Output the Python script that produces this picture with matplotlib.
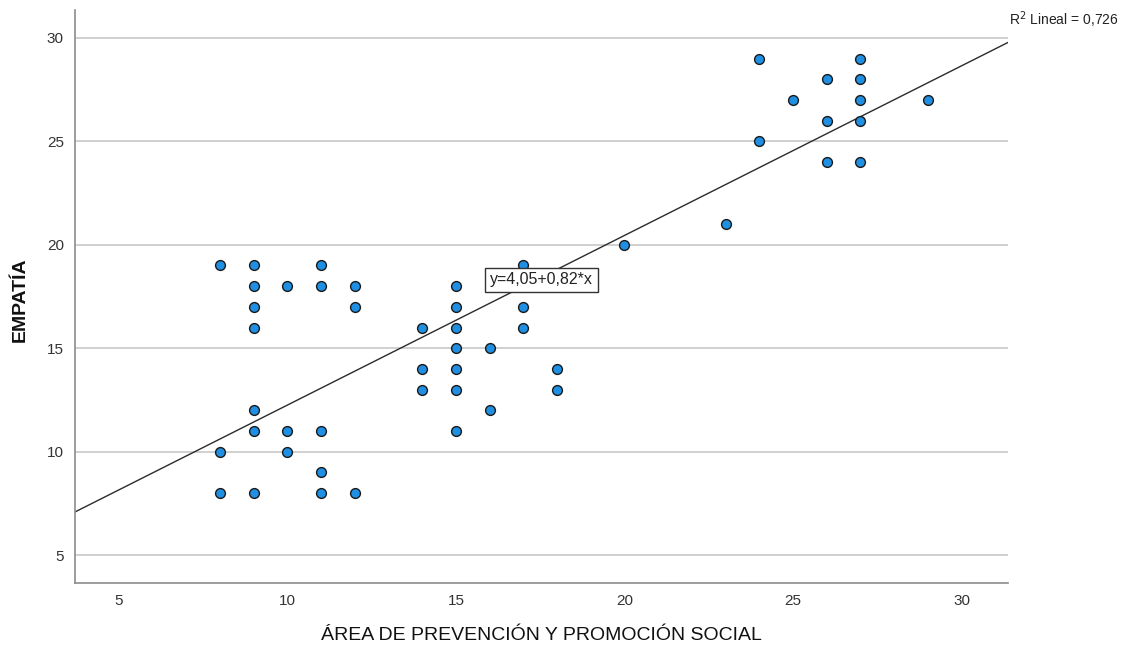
import matplotlib
matplotlib.use("Agg")
import matplotlib.pyplot as plt
import numpy as np

# Data (x = Área de prevención y promoción social, y = Empatía)
x_vals = [8, 8, 8,
          9, 9, 9, 9, 9, 9, 9,
          10, 10, 10,
          11, 11, 11, 11, 11,
          12, 12, 12,
          14, 14, 14,
          15, 15, 15, 15, 15, 15, 15,
          16, 16,
          17, 17, 17,
          18, 18,
          20, 23,
          24, 24, 25,
          26, 26, 26,
          27, 27, 27, 27, 27,
          29]
y_vals = [19, 10, 8,
          19, 18, 17, 16, 12, 11, 8,
          18, 11, 10,
          19, 18, 11, 9, 8,
          18, 17, 8,
          16, 14, 13,
          18, 17, 16, 15, 14, 13, 11,
          15, 12,
          19, 17, 16,
          14, 13,
          20, 21,
          29, 25, 27,
          28, 26, 24,
          29, 28, 27, 26, 24,
          27]
intercept = 4.05
slope = 0.82
r2_text = "R$^2$ Lineal = 0,726"
eq_text = "y=4,05+0,82*x"
x_label = "ÁREA DE PREVENCIÓN Y PROMOCIÓN SOCIAL"
y_label = "EMPATÍA"
xticks = [5, 10, 15, 20, 25, 30]
yticks = [5, 10, 15, 20, 25, 30]

fig = plt.figure(figsize=(11.26, 6.48), dpi=100)
ax = fig.add_axes([75/1126, 65/648, (1008-75)/1126, (583-10)/648])

xlim = (3.70, 31.38)
ylim = (3.65, 31.35)
ax.set_xlim(*xlim)
ax.set_ylim(*ylim)

for yt in yticks:
    ax.axhline(yt, color="#c8c8c8", lw=1.2, zorder=1)

xs = np.array(xlim)
ax.plot(xs, intercept + slope * xs, color="#2b2b2b", lw=1.0, zorder=2)

ax.scatter(x_vals, y_vals, s=50, facecolor="#1f8fe3", edgecolor="#1a1a1a",
           linewidth=1.0, zorder=3)

ax.text(16.02, 18.3, eq_text, fontsize=11.5, color="#222222", va="center", ha="left",
        family="Liberation Sans",
        bbox=dict(boxstyle="square,pad=0.3", facecolor="white", edgecolor="#333333", lw=1.0),
        zorder=4)

fig.text(1009/1126, 1 - 20/648, r2_text, fontsize=10, color="#222222",
         ha="left", va="center", family="Liberation Sans")

ax.set_xticks(xticks)
ax.set_yticks(yticks)
ax.tick_params(length=0, labelsize=11, colors="#333333", pad=8)
for lab in ax.get_xticklabels() + ax.get_yticklabels():
    lab.set_family("Liberation Sans")

for side in ["top", "right"]:
    ax.spines[side].set_visible(False)
for side in ["left", "bottom"]:
    ax.spines[side].set_color("#8c8c8c")
    ax.spines[side].set_linewidth(1.2)

fig.text(541/1126, 1 - 636/648, x_label, fontsize=14, family="Liberation Sans",
         color="#111111", ha="center", va="center")
fig.text(20/1126, 1 - 300/648, y_label, fontsize=14, fontweight="bold",
         family="Liberation Sans", color="#111111", ha="center", va="center",
         rotation=90)

fig.savefig("out.png", dpi=100)
